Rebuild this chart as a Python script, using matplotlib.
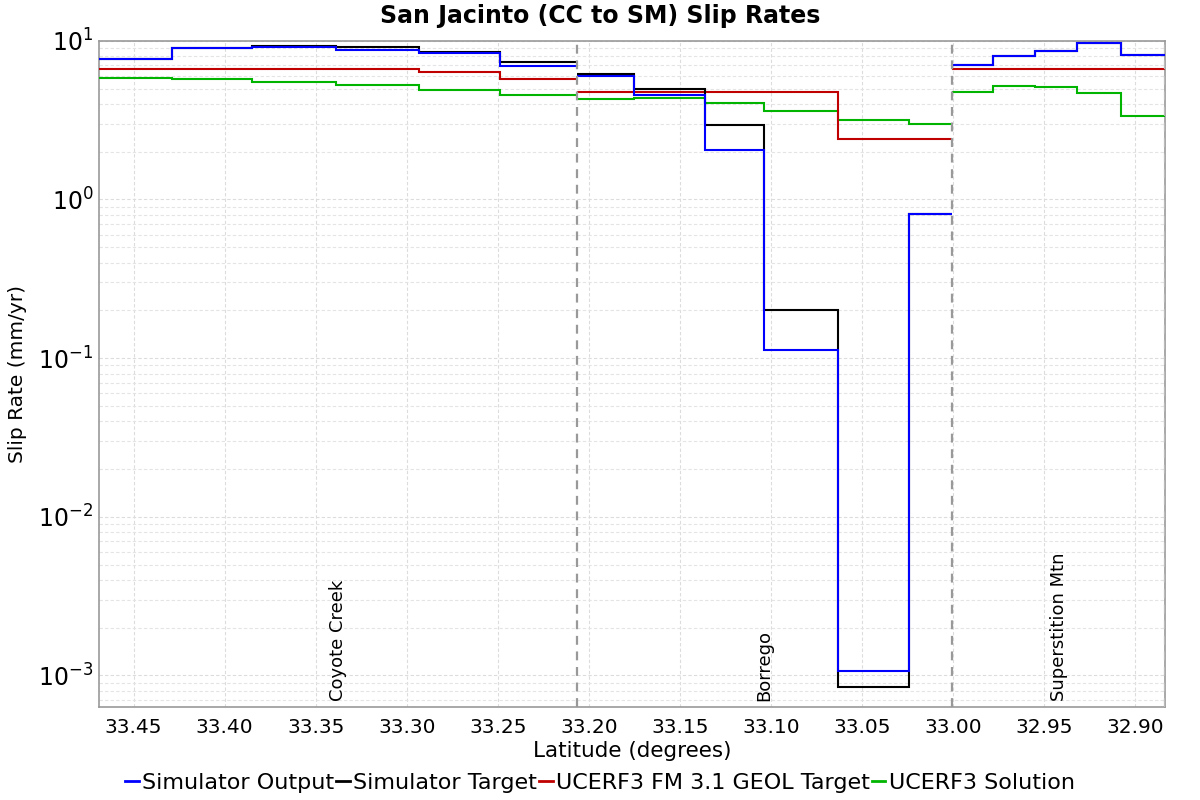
import matplotlib
matplotlib.use("Agg")
import matplotlib.pyplot as plt
from matplotlib.lines import Line2D
from matplotlib.ticker import LogLocator, FixedLocator

# ---- data ----
section_names = ["Coyote Creek", "Borrego", "Superstition Mtn"]
section_edges = [
    [33.469, 33.429, 33.385, 33.339, 33.293, 33.249, 33.2066],
    [33.2066, 33.175, 33.136, 33.104, 33.063, 33.024, 33.0005],
    [33.0005, 32.978, 32.955, 32.932, 32.908, 32.8835],
]
sim_output = [
    [7.69, 9.0, 9.2, 8.78, 8.40, 6.95],
    [5.96, 4.54, 2.06, 0.112, 1.06e-3, 0.814],
    [7.06, 8.04, 8.61, 9.67, 8.13],
]
sim_target = [
    [7.69, 9.05, 9.3, 9.08, 8.56, 7.38],
    [6.17, 5.0, 2.95, 0.2, 8.4e-4, 0.814],
    [7.06, 8.04, 8.61, 9.67, 8.13],
]
geol_target = [
    [6.66, 6.66, 6.66, 6.66, 6.35, 5.73],
    [4.76, 4.76, 4.76, 4.76, 2.40, 2.40],
    [6.68, 6.68, 6.68, 6.68, 6.68],
]
ucerf3_solution = [
    [5.86, 5.73, 5.53, 5.30, 4.93, 4.56],
    [4.29, 4.39, 4.04, 3.62, 3.18, 3.01],
    [4.76, 5.22, 5.15, 4.70, 3.37],
]
series_names = ["Simulator Output", "Simulator Target", "UCERF3 FM 3.1 GEOL Target", "UCERF3 Solution"]
x_ticks = [33.45, 33.40, 33.35, 33.30, 33.25, 33.20, 33.15, 33.10, 33.05, 33.00, 32.95, 32.90]

colors = ["#0000ff", "#000000", "#c00000", "#00b400"]
series = [sim_output, sim_target, geol_target, ucerf3_solution]

fig = plt.figure(figsize=(12, 8), dpi=100)
ax = fig.add_axes([0.0825, 0.116, 0.8885, 0.833])

zorders = [6, 5, 4, 3]
for vals, col, z in zip(series, colors, zorders):
    for edges, v in zip(section_edges, vals):
        ax.stairs(v, edges, baseline=None, color=col, linewidth=1.5, zorder=z)

# section boundaries
for edges in section_edges[:-1]:
    ax.axvline(edges[-1], color="#999999", linestyle=(0, (4, 3)), linewidth=1.6, zorder=7)
ax.axvline(section_edges[-1][-1], color="#bbbbbb", linestyle=(0, (4, 3)), linewidth=1.6, zorder=7)

ax.set_yscale("log")
ax.set_ylim(10 ** -3.2, 10)
ax.set_xlim(section_edges[0][0], section_edges[-1][-1])
ax.xaxis.set_major_locator(FixedLocator(x_ticks))
ax.set_xticklabels([f"{t:.2f}" for t in x_ticks])
ax.yaxis.set_major_locator(LogLocator(base=10, numticks=10))
ax.yaxis.set_minor_locator(LogLocator(base=10, subs=range(2, 10), numticks=20))

ax.grid(True, which="major", color="#dcdcdc", linestyle=(0, (3, 2)), linewidth=0.8)
ax.grid(True, which="minor", axis="y", color="#e4e4e4", linestyle=(0, (3, 2)), linewidth=0.8)
ax.set_axisbelow(True)

for s in ax.spines.values():
    s.set_color("#999999")
    s.set_linewidth(1.2)

ax.tick_params(axis="x", labelsize=14.5, length=0, pad=8)
ax.tick_params(axis="y", which="major", labelsize=17, length=0, pad=4)
ax.tick_params(axis="y", which="minor", length=0)

# section labels
for name, edges in zip(section_names, section_edges):
    mid = (edges[0] + edges[-1]) / 2
    ax.text(mid, 0.01, name, transform=ax.get_xaxis_transform(), rotation=90,
            ha="center", va="bottom", fontsize=13, zorder=8)

fig.text(0.5, 1 - 16 / 800, "San Jacinto (CC to SM) Slip Rates", ha="center", va="center",
         fontsize=17, fontweight="bold")
ax.set_xlabel("Latitude (degrees)", fontsize=15.5, labelpad=3)
ax.set_ylabel("Slip Rate (mm/yr)", fontsize=14.5, labelpad=8)

handles = [Line2D([], [], color=c, linewidth=2) for c in colors]
fig.legend(handles, series_names, loc="center", bbox_to_anchor=(0.5, 0.021), ncol=4,
           frameon=False, fontsize=16, handlelength=0.6, handletextpad=0.15,
           columnspacing=0.1, borderpad=0)

fig.savefig("out.png", dpi=100)
